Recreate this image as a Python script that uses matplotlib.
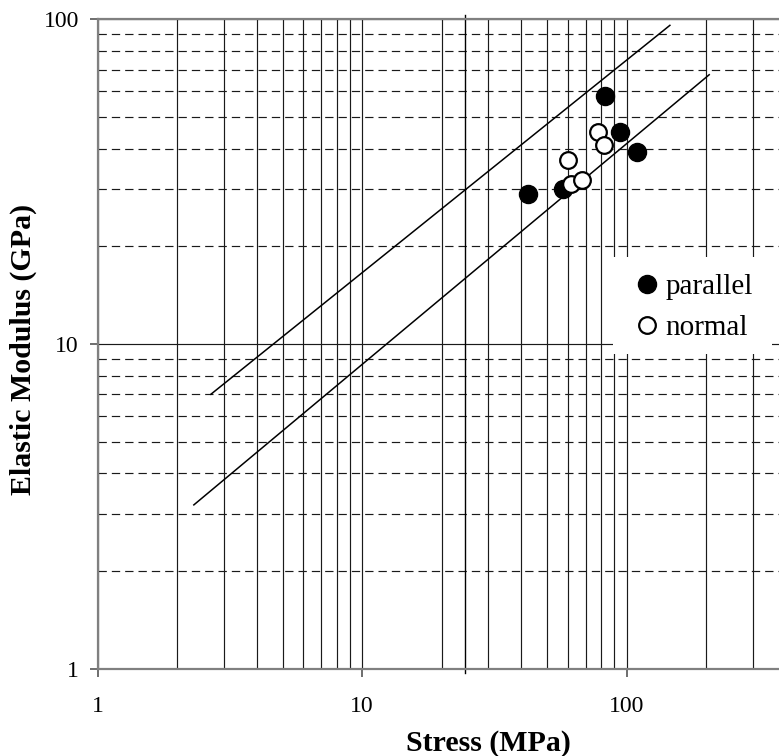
import numpy as np
import matplotlib
matplotlib.use("Agg")
import matplotlib.pyplot as plt
from matplotlib.ticker import LogLocator, NullFormatter, FixedLocator, FixedFormatter
from matplotlib.patches import Rectangle
import matplotlib.transforms as mtransforms

plt.rcParams['font.family'] = ['Liberation Serif', 'DejaVu Serif']
plt.rcParams['lines.scale_dashes'] = False
plt.rcParams['xtick.labelsize'] = 17
plt.rcParams['ytick.labelsize'] = 17

# data
parallel_stress = [42.2, 57.6, 82.8, 94.6, 109.1]
parallel_modulus = [29.0, 30.0, 58.0, 45.0, 39.0]
normal_stress = [60.1, 61.4, 67.8, 77.9, 82.3]
normal_modulus = [36.9, 31.1, 32.0, 45.0, 40.9]

upper_x = [2.68, 145.8]
upper_y = [7.01, 95.8]
lower_x = [2.31, 205.3]
lower_y = [3.20, 67.5]

cross_x = 24.5
x_ticks = [1, 10, 100]
y_ticks = [1, 10, 100]

fig = plt.figure(figsize=(7.79, 7.56), dpi=100)
ax = fig.add_axes([0.1254, 0.1151, 0.8746, 0.8594])
ax.set_xscale('log')
ax.set_yscale('log')
ax.set_xlim(1, 377)
ax.set_ylim(1, 100)

ax.xaxis.set_major_locator(FixedLocator(x_ticks))
ax.yaxis.set_major_locator(FixedLocator(y_ticks))
ax.xaxis.set_major_formatter(FixedFormatter([str(t) for t in x_ticks]))
ax.yaxis.set_major_formatter(FixedFormatter([str(t) for t in y_ticks]))
ax.xaxis.set_minor_locator(LogLocator(base=10, subs=np.arange(2, 10)))
ax.yaxis.set_minor_locator(LogLocator(base=10, subs=np.arange(2, 10)))
ax.xaxis.set_minor_formatter(NullFormatter())
ax.yaxis.set_minor_formatter(NullFormatter())

grid_col = '#1a1a1a'
ax.xaxis.grid(True, which='both', color=grid_col, lw=0.85, ls='-')
ax.yaxis.grid(True, which='major', color=grid_col, lw=0.85, ls='-')
ax.yaxis.grid(True, which='minor', color=grid_col, lw=0.85, ls=(0, (6, 3.6)))
ax.set_axisbelow(True)

for s in ['left', 'bottom', 'top']:
    ax.spines[s].set_color('#808080')
    ax.spines[s].set_linewidth(1.6)
ax.spines['right'].set_visible(False)

ax.tick_params(which='major', direction='out', length=5.5, width=1.2, color='#555555',
               labelsize=17, top=False, right=False)
ax.tick_params(axis='x', which='major', pad=14)
ax.tick_params(axis='y', which='major', pad=8)
ax.tick_params(which='minor', length=0)

# vertical axis crossing line
trans = mtransforms.blended_transform_factory(ax.transData, ax.transAxes)
ax.plot([cross_x, cross_x], [-0.006, 1.006], color='black', lw=1.0, transform=trans,
        clip_on=False, zorder=2)

ax.plot(upper_x, upper_y, color='black', lw=1.1, zorder=2)
ax.plot(lower_x, lower_y, color='black', lw=1.1, zorder=2)

ax.plot(parallel_stress, parallel_modulus, ls='none', marker='o', ms=13,
        mfc='black', mec='black', mew=1.0, label='parallel', zorder=4)
ax.plot(normal_stress, normal_modulus, ls='none', marker='o', ms=12,
        mfc='white', mec='black', mew=1.6, label='normal', zorder=4)

ax.add_patch(Rectangle((0.7564, 0.4848), 0.2333, 0.1492, transform=ax.transAxes,
                       facecolor='white', edgecolor='none', zorder=3))
ax.legend(loc='center left', bbox_to_anchor=(0.7935, 0.557), frameon=False,
          fontsize=21, borderpad=0, borderaxespad=0, handlelength=0.6,
          handletextpad=0.32, labelspacing=0.5)

ax.set_xlabel('Stress (MPa)', fontsize=21.5, fontweight='bold')
ax.set_ylabel('Elastic Modulus (GPa)', fontsize=21.5, fontweight='bold')
ax.xaxis.set_label_coords(0.573, -0.094)
ax.yaxis.set_label_coords(-0.089, 0.4925)

fig.savefig('out.png', dpi=100)
